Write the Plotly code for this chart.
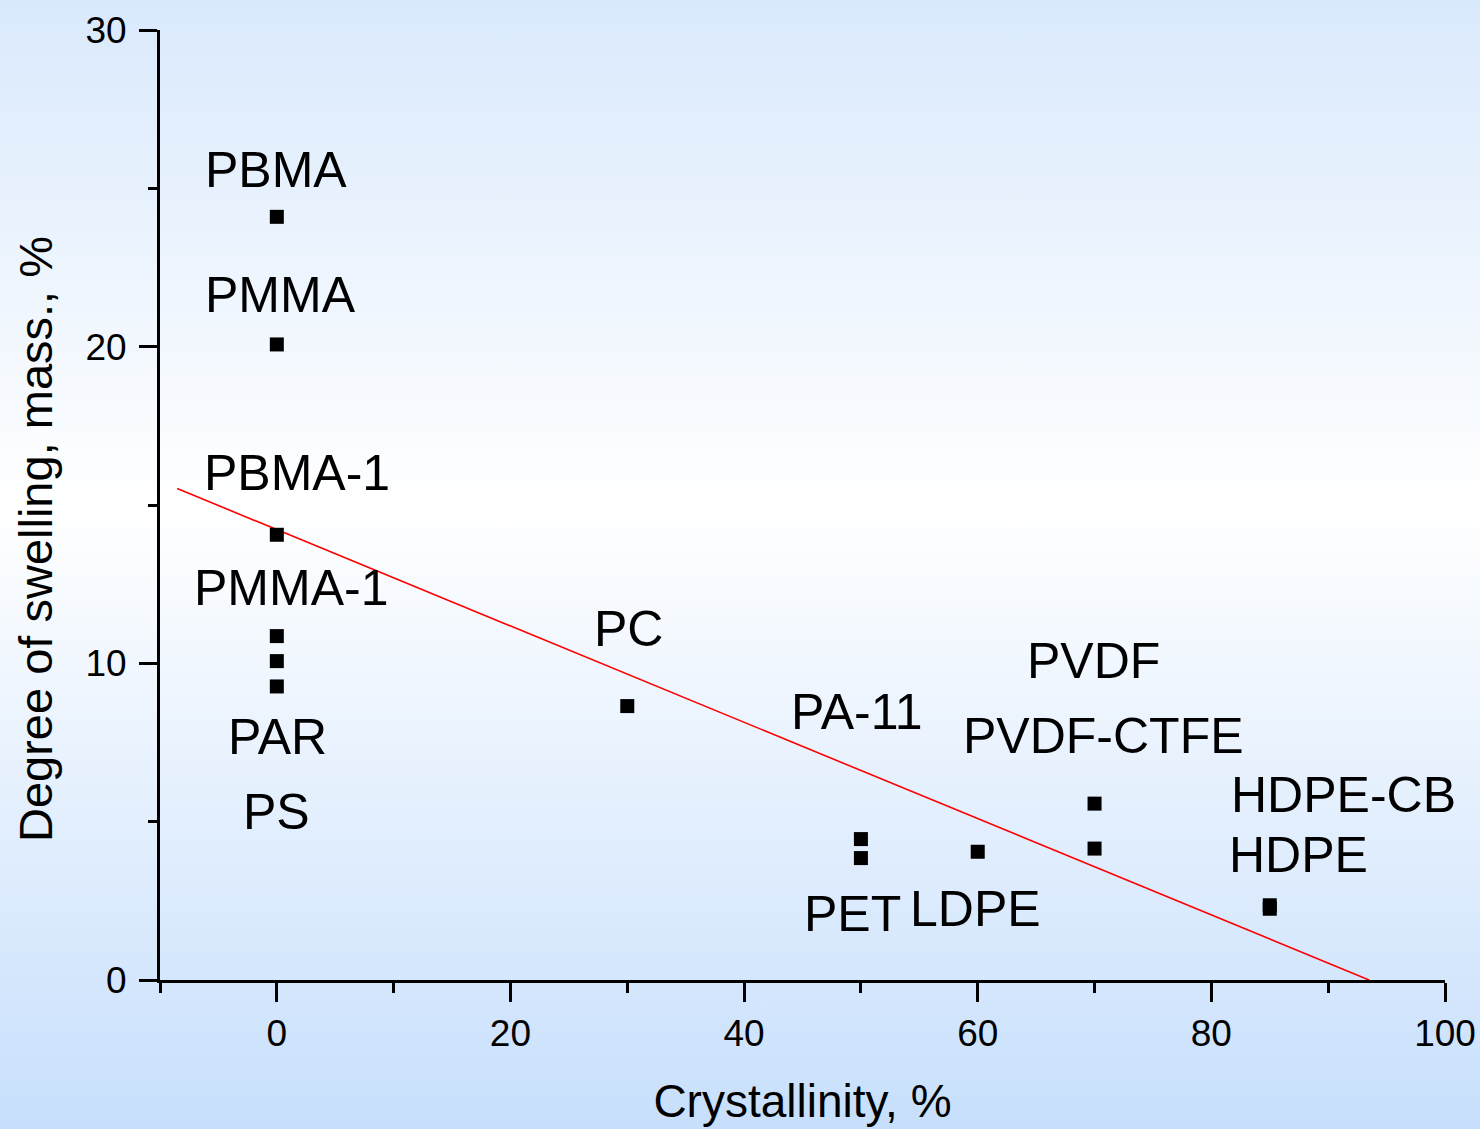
import base64
import plotly.graph_objects as go

# ---- data ----
crystallinity = [0, 0, 0, 0, 0, 0, 30, 50, 50, 60, 70, 70, 85, 85]
swelling = [24.1, 20.07, 14.06, 10.86, 10.07, 9.27, 8.65, 4.45, 3.85, 4.05, 5.57, 4.15, 2.36, 2.25]

fit_x = [-8.53, 93.5]
fit_y = [15.52, 0.0]

label_text = ["PBMA", "PMMA", "PBMA-1", "PMMA-1", "PAR", "PS", "PC", "PA-11",
              "PVDF", "PVDF-CTFE", "PET", "LDPE", "HDPE-CB", "HDPE"]
label_x = [-0.1, 0.33, 1.74, 1.23, 0.1, 0.0, 30.07, 49.7, 69.94, 70.8, 49.3, 59.85, 91.3, 87.45]
label_y = [25.57, 21.62, 16.0, 12.37, 7.66, 5.32, 11.1, 8.45, 10.06, 7.69, 2.07, 2.23, 5.83, 3.95]

x_title = "Crystallinity, %"
y_title = "Degree of swelling, mass., %"

x_range = [-10, 100]
y_range = [0, 30]

W, H = 1480, 1129
ML, MR, MT, MB = 160, 35, 30, 149
PW, PH = W - ML - MR, H - MT - MB

FONT = "Arial, 'Liberation Sans', sans-serif"

svg = (
    f'<svg xmlns="http://www.w3.org/2000/svg" width="{W}" height="{H}" preserveAspectRatio="none">'
    '<defs><linearGradient id="g" x1="0" y1="0" x2="0" y2="1">'
    '<stop offset="0" stop-color="#d9e9fc"/>'
    '<stop offset="0.45" stop-color="#ffffff"/>'
    '<stop offset="1" stop-color="#c7dffc"/>'
    '</linearGradient></defs>'
    f'<rect width="{W}" height="{H}" fill="url(#g)"/></svg>'
)
bg_src = "data:image/svg+xml;base64," + base64.b64encode(svg.encode()).decode()

fig = go.Figure()

fig.add_trace(go.Scatter(
    x=fit_x, y=fit_y, mode="lines",
    line=dict(color="#ff0000", width=1.6),
    hoverinfo="skip", showlegend=False,
))

fig.add_trace(go.Scatter(
    x=crystallinity, y=swelling, mode="markers",
    marker=dict(symbol="square", size=14, color="black", line=dict(width=0)),
    showlegend=False,
))

for t, lx, ly in zip(label_text, label_x, label_y):
    fig.add_annotation(
        x=lx, y=ly, text=t, showarrow=False,
        xanchor="center", yanchor="middle",
        font=dict(family=FONT, size=50, color="black"),
    )

# y-axis title (placed slightly below axis centre, as in the reference)
fig.add_annotation(
    xref="paper", yref="paper",
    x=(35 - ML) / PW, y=(H - MB - 539) / PH,
    text=y_title, showarrow=False, textangle=-90,
    xanchor="center", yanchor="middle",
    font=dict(family=FONT, size=47, color="black"),
)

axis_common = dict(
    showline=True, linewidth=3, linecolor="black", mirror=False,
    showgrid=False, zeroline=False,
    ticks="outside", tickwidth=3, tickcolor="black",
    tickfont=dict(family=FONT, size=37, color="black"),
)

fig.update_xaxes(
    range=x_range, tick0=0, dtick=20, ticklen=19,
    minor=dict(tick0=0, dtick=10, ticklen=10, ticks="outside", tickwidth=3, tickcolor="black"),
    title=dict(text=x_title, font=dict(family=FONT, size=46, color="black"), standoff=32),
    ticklabelstandoff=0,
    **axis_common,
)
fig.update_yaxes(
    range=y_range, tick0=0, dtick=10, ticklen=18,
    minor=dict(tick0=0, dtick=5, ticklen=9, ticks="outside", tickwidth=3, tickcolor="black"),
    ticklabelstandoff=5,
    **axis_common,
)

fig.update_layout(
    width=W, height=H,
    margin=dict(l=ML, r=MR, t=MT, b=MB, autoexpand=False),
    paper_bgcolor="#eaf2fe", plot_bgcolor="rgba(0,0,0,0)",
    font=dict(family=FONT, color="black"),
    showlegend=False,
    images=[dict(
        source=bg_src, xref="paper", yref="paper",
        x=-ML / PW, y=1 + MT / PH, sizex=W / PW, sizey=H / PH,
        xanchor="left", yanchor="top", sizing="stretch", layer="below",
    )],
)

fig.write_html(
    "out.html",
    config={"displayModeBar": False},
    post_script="document.body.style.margin='0';",
)
